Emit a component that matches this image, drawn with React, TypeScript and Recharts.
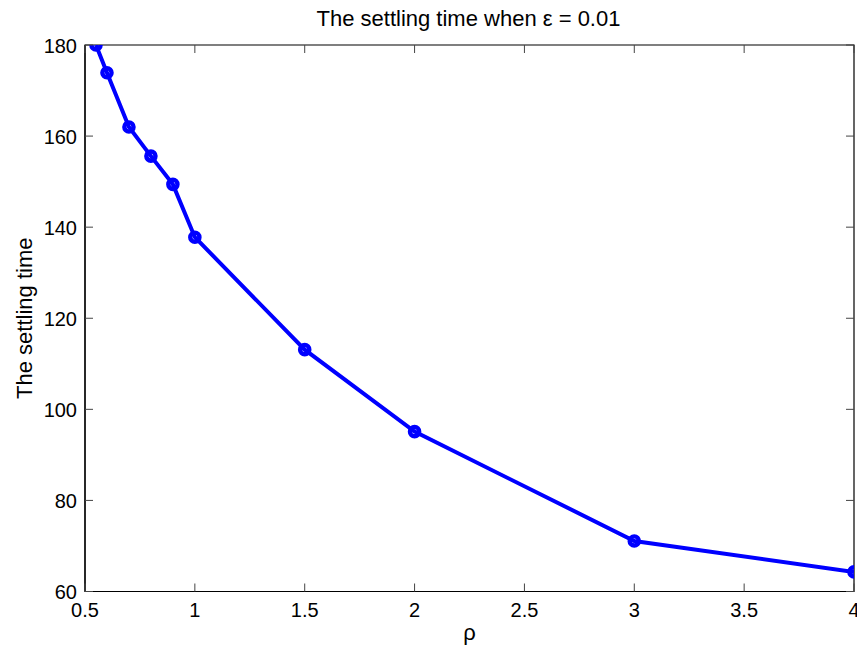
import React from 'react';
import { LineChart, Line, XAxis, YAxis, ReferenceArea } from 'recharts';

// Damping parameter rho and the measured settling time for epsilon = 0.01
const rhoValues = [0.55, 0.6, 0.7, 0.8, 0.9, 1, 1.5, 2, 3, 4];
const settlingTimes = [180, 173.9, 162.0, 155.6, 149.4, 137.8, 113.1, 95.1, 71.1, 64.3];
const xTicks = [0.5, 1, 1.5, 2, 2.5, 3, 3.5, 4];
const yTicks = [60, 80, 100, 120, 140, 160, 180];

const data = rhoValues.map((rho, i) => ({ rho, t: settlingTimes[i] }));

const W = 865;
const H = 650;
const PLOT = { left: 85, top: 45, right: 854, bottom: 591.5 };
const FONT = 'Liberation Sans, Arial, Helvetica, sans-serif';
const TICK_LEN = 8;
const BLUE = '#0000ff';

const fmt = (v: number) => String(v);

// Bottom axis tick: inward mark on bottom and top edges, label below
const XTick = (props: any) => {
  const { x, payload } = props;
  return (
    <g>
      <line x1={x} y1={PLOT.bottom} x2={x} y2={PLOT.bottom - TICK_LEN} stroke="#444" strokeWidth={1} />
      <line x1={x} y1={PLOT.top} x2={x} y2={PLOT.top + TICK_LEN} stroke="#444" strokeWidth={1} />
      <text x={x} y={PLOT.bottom + 25.5} textAnchor="middle" fontSize={20} fontFamily={FONT} fill="#000">
        {fmt(payload.value)}
      </text>
    </g>
  );
};

// Left axis tick: inward mark on left and right edges, label to the left
const YTick = (props: any) => {
  const { y, payload } = props;
  return (
    <g>
      <line x1={PLOT.left} y1={y} x2={PLOT.left + TICK_LEN} y2={y} stroke="#444" strokeWidth={1} />
      <line x1={PLOT.right} y1={y} x2={PLOT.right - TICK_LEN} y2={y} stroke="#444" strokeWidth={1} />
      <text x={PLOT.left - 8} y={y + 7.5} textAnchor="end" fontSize={20} fontFamily={FONT} fill="#000">
        {fmt(payload.value)}
      </text>
    </g>
  );
};

// Hollow circle marker, as in a MATLAB '-o' plot
const RingDot = (props: any) => {
  const { cx, cy, index } = props;
  if (cx == null || cy == null) return null;
  return <circle key={index} cx={cx} cy={cy} r={4.6} fill="none" stroke={BLUE} strokeWidth={4.4} />;
};

export default function App() {
  const midY = (PLOT.top + PLOT.bottom) / 2;
  const midX = (PLOT.left + PLOT.right) / 2;
  return (
    <div style={{ width: W, height: H, margin: '-8px 0 0 -8px', background: '#fff' }}>
      <LineChart
        width={W}
        height={H}
        data={data}
        margin={{ top: PLOT.top, right: W - PLOT.right, left: 0, bottom: H - PLOT.bottom - 40 }}
      >
        <XAxis
          dataKey="rho"
          type="number"
          domain={[0.5, 4]}
          ticks={xTicks}
          interval={0}
          height={40}
          tickSize={0}
          tickMargin={0}
          tickLine={false}
          axisLine={{ stroke: '#000', strokeWidth: 1.2 }}
          tick={<XTick />}
          allowDataOverflow
        />
        <YAxis
          type="number"
          domain={[60, 180]}
          ticks={yTicks}
          interval={0}
          width={PLOT.left}
          tickSize={0}
          tickMargin={0}
          tickLine={false}
          axisLine={{ stroke: '#000', strokeWidth: 1.2 }}
          tick={<YTick />}
          allowDataOverflow
        />
        <ReferenceArea x1={0.5} x2={4} y1={60} y2={180} fill="none" stroke="#000" strokeWidth={1.2} />
        <Line
          dataKey="t"
          type="linear"
          stroke={BLUE}
          strokeWidth={4}
          dot={<RingDot />}
          activeDot={false}
          isAnimationActive={false}
        />
        <text x={midX - 1} y={26} textAnchor="middle" fontSize={22} fontFamily={FONT} fill="#000">
          The settling time when ε = 0.01
        </text>
        <text x={midX} y={640} textAnchor="middle" fontSize={22} fontFamily={FONT} fill="#000">
          ρ
        </text>
        <text
          x={32}
          y={midY}
          textAnchor="middle"
          fontSize={22}
          fontFamily={FONT}
          fill="#000"
          transform={`rotate(-90, 32, ${midY})`}
        >
          The settling time
        </text>
      </LineChart>
    </div>
  );
}
